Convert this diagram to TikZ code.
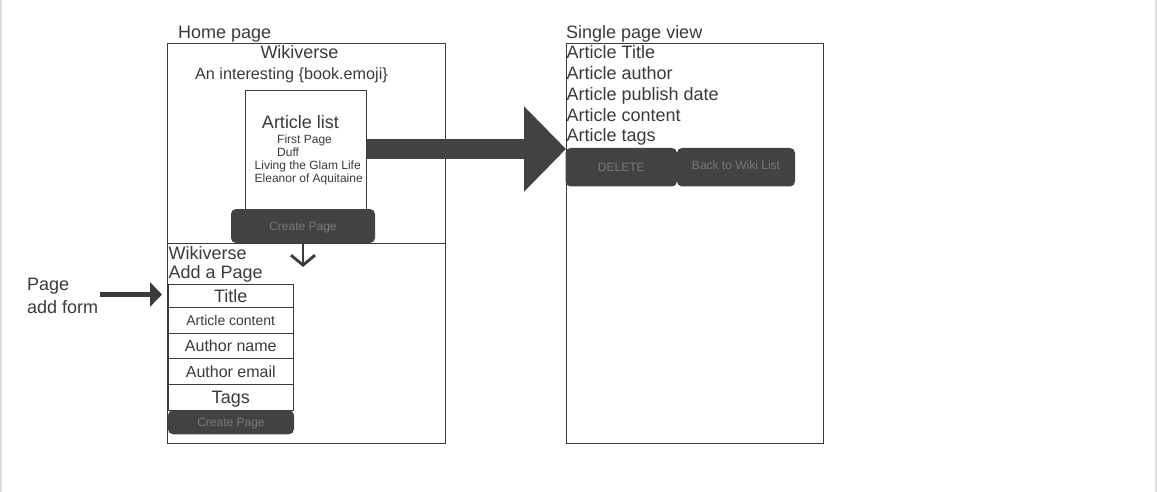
\documentclass[tikz,border=0pt]{standalone}
\usepackage{fontspec}
\setmainfont{Liberation Sans}
\usetikzlibrary{arrows.meta}
\definecolor{ink}{HTML}{3A3A3A}
\definecolor{btnfill}{HTML}{424242}
\definecolor{btntext}{HTML}{7A7A7A}
\definecolor{edge}{HTML}{DDDDDD}
\tikzset{
  frame/.style={draw=ink, line width=0.9pt, anchor=north west, inner sep=0pt, outer sep=0pt},
  lbl/.style={text=ink, font=\fontsize{18}{21}\selectfont, inner sep=0pt, anchor=base west},
  item/.style={text=ink, font=\fontsize{12}{13}\selectfont, inner sep=0pt, anchor=base west},
  btn/.style={fill=btnfill, rounded corners=5pt, anchor=north west, inner sep=0pt, outer sep=0pt,
    text=btntext, font=\fontsize{12}{14}\selectfont, text height=8.6pt, text depth=0pt},
  field/.style={draw=ink, line width=0.9pt, minimum width=125.5pt, anchor=north west,
    inner sep=0pt, outer sep=0pt, text=ink},
}
\begin{document}
\begin{tikzpicture}[x=1pt,y=-1pt]
  \useasboundingbox (0,0) rectangle (1157,492);
  \draw[edge, line width=2pt] (1,0) -- (1,492);
  \draw[edge, line width=2pt] (1155.5,0) -- (1155.5,492);

  % home page
  \node[lbl] (homelbl) at (178,38.5) {Home page};
  \node[frame, minimum width=278pt, minimum height=400pt] (home) at (167,43) {};
  \draw[ink, line width=0.9pt] (home.west |- 0,243) -- (home.east |- 0,243);
  \node[lbl, anchor=base] (hometitle) at (299.5,59) {Wikiverse};
  \node[lbl, anchor=base, font=\fontsize{16.2}{19}\selectfont] (tagline) at (291.5,79.5) {An interesting \{book.emoji\}};
  \node[frame, minimum width=121pt, minimum height=122pt] (alist) at (245.5,90.5) {};
  \node[lbl, anchor=base] (alisttitle) at (300.5,128.3) {Article list};
  \node[item] (first) at (277,144) {First Page};
  \node[item] (duff) at (277,156.5) {Duff};
  \node[item] (glam) at (254.5,170) {Living the Glam Life};
  \node[item] (eleanor) at (254.5,182.3) {Eleanor of Aquitaine};
  \node[btn, minimum width=144pt, minimum height=34pt] (create) at (231,209) {Create Page};

  % add form
  \coordinate (formtop) at (303,267);
  \draw[ink, line width=2.8pt, -{Straight Barb[length=10pt,width=24pt]}] (create.south) -- (formtop);
  \node[lbl] (formtitle) at (168.5,259.3) {Wikiverse};
  \node[lbl] (formsub) at (168.5,278.3) {Add a Page};
  \node[field, minimum height=23pt, font=\fontsize{18}{21}\selectfont, text height=12.9pt, text depth=0pt] (title) at (168,284.3) {Title};
  \node[field, minimum height=26.4pt, font=\fontsize{14}{17}\selectfont, text height=10pt, text depth=0pt] (content) at (title.south west) {Article content};
  \node[field, minimum height=25pt, font=\fontsize{16}{19}\selectfont, text height=11.5pt, text depth=0pt] (name) at (content.south west) {Author name};
  \node[field, minimum height=25.6pt, font=\fontsize{16}{19}\selectfont, text height=11.5pt, text depth=0pt] (email) at (name.south west) {Author email};
  \node[field, minimum height=26pt, font=\fontsize{18}{21}\selectfont, text height=12.9pt, text depth=0pt] (tags) at (email.south west) {Tags};
  \node[btn, minimum width=126pt, minimum height=24pt] (create2) at (tags.south west) {Create Page};

  \node[text=ink, font=\fontsize{18}{23}\selectfont, align=left, inner sep=0pt, anchor=west] (addlbl) at (27,296) {Page\\add form};
  \draw[ink, line width=4.5pt, shorten <=1.5pt, shorten >=6pt, -{Triangle[length=12pt,width=24pt]}] (addlbl.east |- 0,294.5) -- (title.west |- 0,294.5);

  % single page view
  \node[lbl] (singlelbl) at (566,38.3) {Single page view};
  \node[frame, minimum width=257pt, minimum height=400pt] (single) at (566,43) {};
  \node[lbl] (atitle) at (566.5,58.5) {Article Title};
  \node[lbl] (aauthor) at (566.5,79.5) {Article author};
  \node[lbl] (adate) at (566.5,100.5) {Article publish date};
  \node[lbl] (acontent) at (566.5,121.5) {Article content};
  \node[lbl] (atags) at (566.5,142) {Article tags};
  \node[btn, minimum width=111.5pt, minimum height=38.5pt] (delete) at (565.5,148) {DELETE};
  \node[btn, minimum width=118pt, minimum height=38.5pt, text depth=5pt] (back) at (677,148) {Back to Wiki List};

  \draw[btnfill, line width=20pt, -{Triangle[length=42pt,width=83pt]}] (alist.east |- 0,149) -- (single.west |- 0,149);
\end{tikzpicture}
\end{document}
